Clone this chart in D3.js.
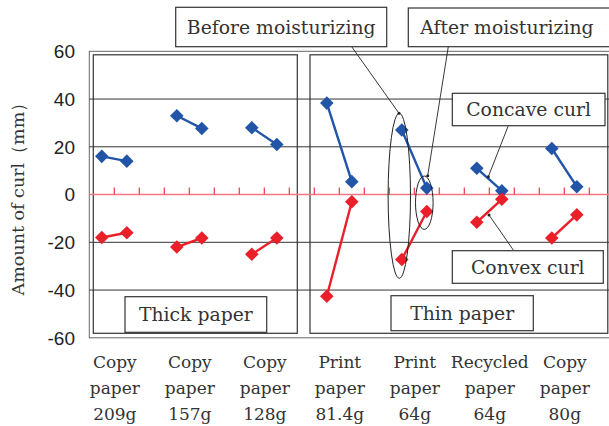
<!DOCTYPE html>
<html>
<head>
<meta charset="utf-8">
<script src="https://cdn.jsdelivr.net/npm/d3@7"></script>
<style>
  html, body { margin: 0; padding: 0; background: #fff; }
  #chart { width: 609px; height: 426px; }
</style>
</head>
<body>
<div id="chart"></div>
<script>
// paper types, three text lines each
const categories = ['Copy paper 209g', 'Copy paper 157g', 'Copy paper 128g', 'Print paper 81.4g',
    'Print paper 64g', 'Recycled paper 64g', 'Copy paper 80g'];
const categoryLines = [
    ['Copy', 'paper', '209g'], ['Copy', 'paper', '157g'], ['Copy', 'paper', '128g'],
    ['Print', 'paper', '81.4g'], ['Print', 'paper', '64g'], ['Recycled', 'paper', '64g'],
    ['Copy', 'paper', '80g']
];
// amount of curl (mm)
const concaveBefore = [16, 33, 28, 38.3, 27, 11, 19.3];
const concaveAfter = [14, 27.7, 21, 5.4, 2.7, 1.6, 3.3];
const convexBefore = [-18, -22, -25, -42.6, -27.2, -11.6, -18.2];
const convexAfter = [-16, -18.2, -18.2, -3, -7.1, -2, -8.5];
const yTicks = [60, 40, 20, 0, -20, -40, -60];
const gridValues = [40, 20, -20, -40];
const groups = [
    {name: 'Thick paper', first: 0, last: 2},
    {name: 'Thin paper', first: 3, last: 6}
];

const W = 609, H = 426;
const blue = '#2254a8', red = '#ea1f2a', ink = '#333';
const serif = '"DejaVu Serif", serif';

const svg = d3.select('#chart').append('svg')
    .attr('width', W)
    .attr('height', H);

const x = d3.scaleBand().domain(categories).range([89.3, 614.3]);
const slot = d3.scaleBand().domain(['before', 'after', 'gap']).range([0, x.bandwidth()]);
const y = d3.scaleLinear().domain([-60, 60]).range([337.8, 51.3]);
const px = (c, s) => x(c) + slot(s) + slot.bandwidth() / 2;

// outer frame of the plot area
svg.append('rect')
    .attr('x', 89.3).attr('y', y(60))
    .attr('width', 530).attr('height', y(-60) - y(60))
    .attr('fill', 'none').attr('stroke', '#666').attr('stroke-width', 1);

// group panels
const panelX = [[93.3, 297.3], [310, 607.8]];
groups.forEach((g, i) => {
    svg.append('rect')
        .attr('x', panelX[i][0]).attr('y', y(60) + 3.5)
        .attr('width', panelX[i][1] - panelX[i][0])
        .attr('height', y(-60) - y(60) - 8)
        .attr('fill', 'none').attr('stroke', ink).attr('stroke-width', 1.2);
});

// grid lines
svg.append('g').selectAll('line').data(gridValues).join('line')
    .attr('x1', 89.3).attr('x2', W)
    .attr('y1', d => y(d)).attr('y2', d => y(d))
    .attr('stroke', ink).attr('stroke-width', 1);

// zero line with slot ticks
svg.append('line')
    .attr('x1', 89.3).attr('x2', W)
    .attr('y1', y(0)).attr('y2', y(0))
    .attr('stroke', '#f07880').attr('stroke-width', 1.6);
const tickXs = [];
categories.forEach(c => slot.domain().forEach(s => tickXs.push(x(c) + slot(s))));
svg.append('g').selectAll('line').data(tickXs.slice(1)).join('line')
    .attr('x1', d => d).attr('x2', d => d)
    .attr('y1', y(0) - 7).attr('y2', y(0))
    .attr('stroke', '#ee3a46').attr('stroke-width', 1.2);

// y axis labels
svg.append('g').selectAll('text').data(yTicks).join('text')
    .attr('x', 75).attr('y', d => y(d))
    .attr('dy', '0.36em')
    .attr('text-anchor', 'end')
    .attr('font-family', '"Liberation Sans", Arial, sans-serif')
    .attr('font-size', 19)
    .attr('fill', '#222')
    .text(d => d);

svg.append('text')
    .attr('transform', `translate(24, ${y(0)}) rotate(-90)`)
    .attr('text-anchor', 'middle')
    .attr('font-family', serif)
    .attr('font-size', 17.5)
    .attr('fill', ink)
    .text('Amount of curl（mm）');

// series
const diamond = d3.symbol().type(d3.symbolSquare).size(92);
function series(before, after, color) {
    const g = svg.append('g');
    categories.forEach((c, i) => {
        g.append('line')
            .attr('x1', px(c, 'before')).attr('y1', y(before[i]))
            .attr('x2', px(c, 'after')).attr('y2', y(after[i]))
            .attr('stroke', color).attr('stroke-width', 2.4);
        [[before[i], 'before'], [after[i], 'after']].forEach(([v, s]) => {
            g.append('path')
                .attr('d', diamond())
                .attr('transform', `translate(${px(c, s)},${y(v)}) rotate(45)`)
                .attr('fill', color);
        });
    });
}
series(concaveBefore, concaveAfter, blue);
series(convexBefore, convexAfter, red);

// category labels
categoryLines.forEach((lines, i) => {
    const t = svg.append('text')
        .attr('text-anchor', 'middle')
        .attr('font-family', serif)
        .attr('font-size', 17)
        .attr('fill', ink);
    lines.forEach((l, j) => {
        t.append('tspan')
            .attr('x', px(categories[i], 'after') - slot.bandwidth() / 2 + 0.5)
            .attr('y', 368 + j * 25.8)
            .text(l);
    });
});

// ellipses around "Print paper 64g"
const c64 = categories[4];
svg.append('ellipse')
    .attr('cx', px(c64, 'before') - 2.5).attr('cy', 195.8)
    .attr('rx', 11.2).attr('ry', 82.5)
    .attr('fill', 'none').attr('stroke', '#222').attr('stroke-width', 1);
svg.append('ellipse')
    .attr('cx', px(c64, 'after') - 2.5).attr('cy', 202.7)
    .attr('rx', 8.8).attr('ry', 26.7)
    .attr('fill', 'none').attr('stroke', '#222').attr('stroke-width', 1);

// leader lines
const leaders = [
    [351.7, 46.7, 399, 113.3],
    [448.3, 46.7, 427.7, 175.7],
    [508.3, 125.7, 488.3, 176.7],
    [513.3, 250, 489, 215]
];
leaders.forEach(([x1, y1, x2, y2]) => {
    svg.append('line')
        .attr('x1', x1).attr('y1', y1).attr('x2', x2).attr('y2', y2)
        .attr('stroke', '#222').attr('stroke-width', 0.9);
    svg.append('circle')
        .attr('cx', x2).attr('cy', y2).attr('r', 1.5).attr('fill', '#222');
});

// text boxes
const boxes = [
    {text: 'Before moisturizing', x: 175.7, y: 7.3, w: 211, h: 39.4},
    {text: 'After moisturizing', x: 408.3, y: 8, w: 210, h: 38.7},
    {text: 'Concave curl', x: 452.3, y: 93.3, w: 152.7, h: 32.4},
    {text: 'Convex curl', x: 452.3, y: 250.7, w: 151, h: 32.6},
    {text: groups[0].name, x: 125, y: 296.7, w: 141.7, h: 35.6},
    {text: groups[1].name, x: 391, y: 295.7, w: 142.3, h: 35}
];
boxes.forEach(b => {
    svg.append('rect')
        .attr('x', b.x).attr('y', b.y).attr('width', b.w).attr('height', b.h)
        .attr('fill', '#fff').attr('stroke', ink).attr('stroke-width', 1.2);
    svg.append('text')
        .attr('x', b.text === 'After moisturizing' ? b.x + 12 : b.x + b.w / 2)
        .attr('y', b.y + b.h / 2)
        .attr('dy', '0.36em')
        .attr('text-anchor', b.text === 'After moisturizing' ? 'start' : 'middle')
        .attr('font-family', serif)
        .attr('font-size', 18.8)
        .attr('fill', ink)
        .text(b.text);
});
</script>
</body>
</html>
